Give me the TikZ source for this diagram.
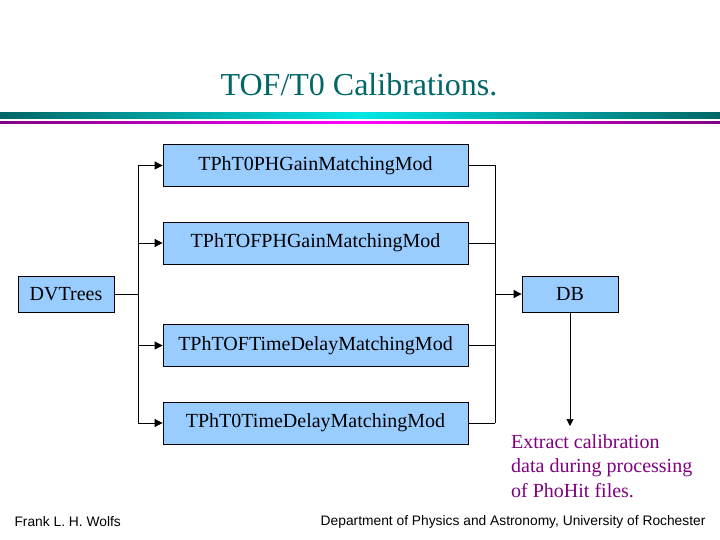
\documentclass[tikz,border=0pt]{standalone}
\usepackage{fontspec}
\setmainfont{Liberation Serif}
\newfontfamily\footfont{Liberation Sans}
\usetikzlibrary{arrows,arrows.meta,shapes,positioning,calc}
\definecolor{boxblue}{RGB}{153,204,255}
\definecolor{titleteal}{RGB}{0,102,102}
\definecolor{notepurple}{RGB}{128,0,128}
\begin{document}
\begin{tikzpicture}[x=1pt,y=-1pt,
    modbox/.style={draw,thick,fill=boxblue,minimum width=305pt,minimum height=42pt,font=\fontsize{20}{22}\selectfont},
    endbox/.style={draw,thick,fill=boxblue,minimum width=96pt,minimum height=36pt,font=\fontsize{20}{22}\selectfont},
    wire/.style={thick},
    feed/.style={thick,-{Triangle[length=8pt,width=8pt]}}]
            \useasboundingbox (0,0) rectangle (720,540);
            \node[text=titleteal,font=\fontsize{32}{34}\selectfont]
            (title) at (359,85) {TOF/T0 Calibrations.};
            \shade[left color=titleteal,right color=titleteal,middle color=cyan!80!teal]
            (0,113) rectangle (720,119);
            \shade[left color=notepurple,right color=notepurple,middle color=magenta]
            (0,121.5) rectangle (720,123.5);
            \node[endbox] (dvt) at (66,294) {DVTrees};
            \node[modbox] (m1) at (315.5,165.5) {TPhT0PHGainMatchingMod};
            \node[modbox] (m2) at (315.5,243) {TPhTOFPHGainMatchingMod};
            \node[modbox] (m3) at (315.5,345.5) {TPhTOFTimeDelayMatchingMod};
            \node[modbox] (m4) at (315.5,423) {TPhT0TimeDelayMatchingMod};
            \node[endbox] (db) at (570,294) {DB};
            \coordinate (lbus) at (138,294);
            \coordinate (rbus) at (495,294);
            \coordinate (tip) at (570,426);
            \draw[wire] (dvt.east) -- (lbus);
            \draw[wire] (lbus |- m1.west) -- (lbus |- m4.west);
            \draw[wire] (rbus |- m1.east) -- (rbus |- m4.east);
            \foreach \m in {m1,m2,m3,m4} {
                \draw[feed] (lbus |- \m.west) -- (\m.west);
                \draw[wire] (\m.east) -- (rbus |- \m.east);
            }
            \draw[feed] (rbus) -- (db.west);
            \draw[semithick,-{Triangle[length=7pt,width=7pt]}] (db.south) -- (tip);
            \node[text=notepurple,align=left,anchor=north west,inner sep=0pt,font=\fontsize{20}{24.5}\selectfont]
            (note) at (511,434) {Extract calibration\\data during processing\\of PhoHit files.};
            \node[anchor=west,font=\footfont\fontsize{13.8}{15}\selectfont] (author) at (11,522) {Frank L. H. Wolfs};
            \node[anchor=east,font=\footfont\fontsize{13.8}{15}\selectfont] (dept) at (709,522) {Department of Physics and Astronomy, University of Rochester};
        \end{tikzpicture}
\end{document}
